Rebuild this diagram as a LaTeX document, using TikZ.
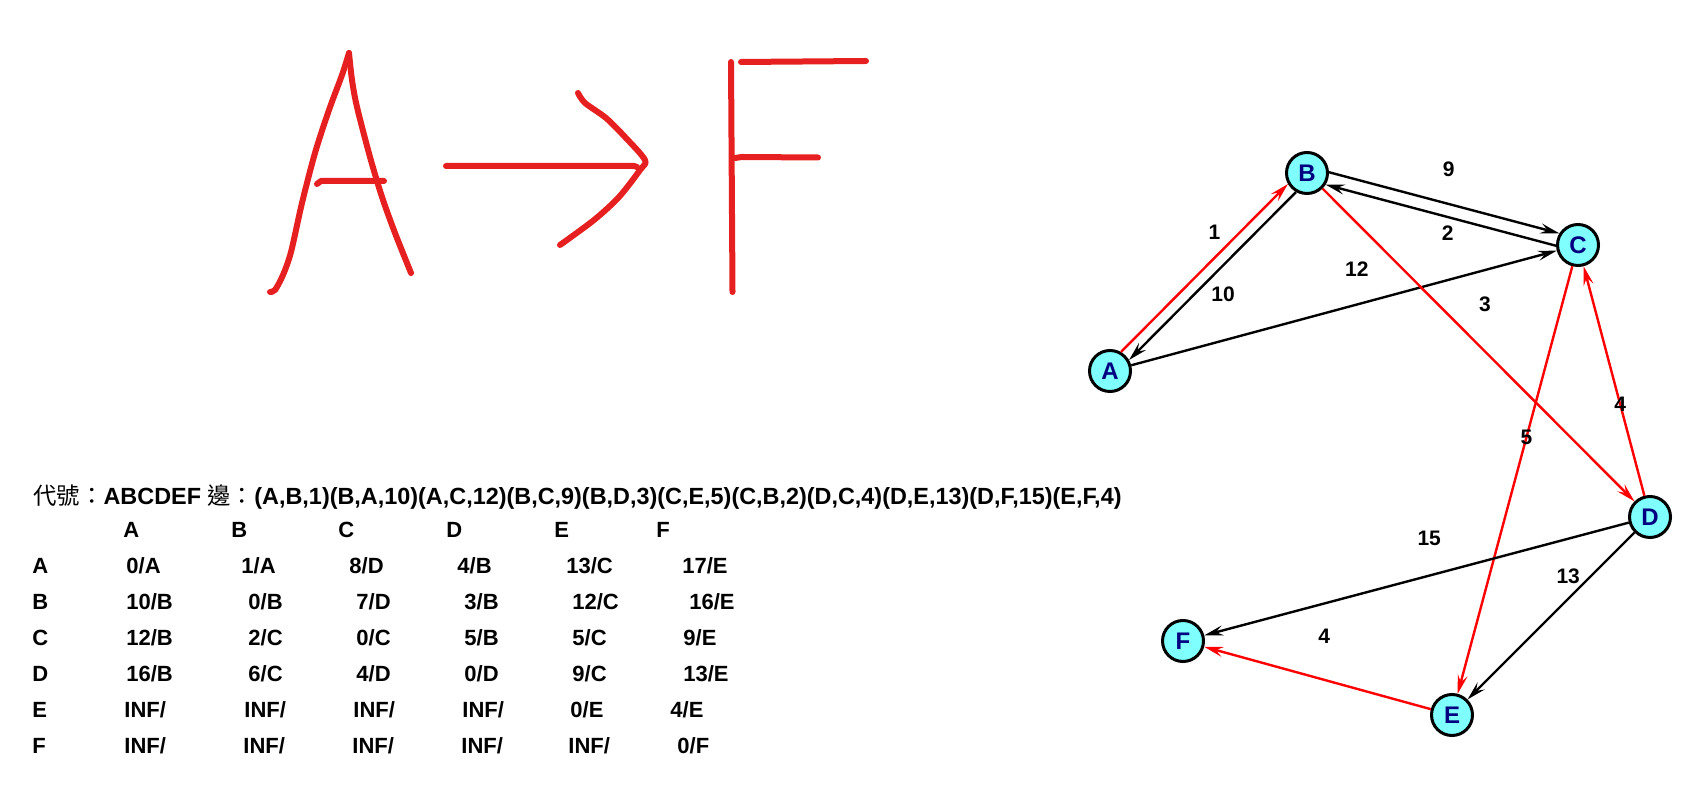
\documentclass[tikz,border=0pt]{standalone}
\usepackage{fontspec}
\setmainfont{Liberation Sans}
\newfontfamily\cjk{Noto Sans CJK TC}
\usetikzlibrary{arrows.meta}

\definecolor{nodecyan}{RGB}{128,255,255}
\definecolor{labelnavy}{RGB}{0,0,128}
\definecolor{pathred}{RGB}{255,0,0}
\definecolor{inkred}{RGB}{230,32,32}

\begin{document}
\begin{tikzpicture}[
    x=0.5pt, y=-0.5pt,
    vertex/.style={
        circle,
        draw,
        line width=1.5pt,
        fill=nodecyan,
        minimum size=20.5pt,
        inner sep=0pt,
        text=labelnavy,
        font=\fontsize{12}{12}\selectfont\bfseries
    },
    link/.style={
        line width=1.2pt,
        -{Stealth[length=9.5pt,width=5pt,inset=3.5pt]}
    },
    redlink/.style={
        link,
        pathred
    },
    cost/.style={
        inner sep=1pt,
        text=black,
        font=\fontsize{10.5}{12}\selectfont\bfseries
    },
    cell/.style={
        anchor=base west,
        inner sep=0pt,
        font=\fontsize{11}{13}\selectfont\bfseries
    },
    ink/.style={
        inkred,
        line width=3pt,
        line cap=round,
        line join=round
    }
]

\useasboundingbox (0,0) rectangle (1687,795);

% Handwritten A -> F

\draw[ink] plot[smooth, tension=.5] coordinates {(270,292) (275,290) (283,275) (291,252) (302,203) (315,153) (329,110) (342,75) (349,53)};
\draw[ink] plot[smooth, tension=.5] coordinates {(349,53) (352,80) (357,107) (370,157) (382,197) (395,233) (411,273)};
\draw[ink] (317,184) -- (321,181) -- (384,181);

\draw[ink] (446,166) -- (634,166) -- (637,167);
\draw[ink] plot[smooth, tension=.5] coordinates {(578,93) (585,103) (606,118) (625,137) (645,160) (640,170) (619,197) (594,220) (560,245)};

\draw[ink] (731,62) -- (732.5,292);
\draw[ink] (741,62) -- (866,61);
\draw[ink] (735,158) -- (742,157) -- (818,157.5);


% Graph

\node[vertex] (A) at (1110,371) {A};
\node[vertex] (B) at (1307,173) {B};
\node[vertex] (C) at (1578,245) {C};
\node[vertex] (D) at (1650,517) {D};
\node[vertex] (E) at (1452,715) {E};
\node[vertex] (F) at (1183,641) {F};


% Edges

\draw[redlink] (A.60) -- node[cost, pos=.71, left=8pt] {1} (B.210);
\draw[link] (B.240) -- node[cost, pos=.61, right=7pt] {10} (A.30);
\draw[link] (A) -- node[cost, pos=.53, above=12.5pt] {12} (C);
\draw[link] (B.2) -- node[cost, pos=.52, above=12pt] {9} (C.148);
\draw[link] (C.182) -- node[cost, pos=.47, below=3pt] {2} (B.-32);
\draw[redlink] (B) -- node[cost, pos=.37, right=19pt] {3} (D);
\draw[redlink] (C) -- node[cost, pos=.4] {5} (E);
\draw[redlink] (D) -- node[cost, pos=.4] {4} (C);
\draw[link] (D) -- node[cost, pos=.26, left=4pt] {13} (E);
\draw[link] (D) -- node[cost, pos=.47, above=13.5pt] {15} (F);
\draw[redlink] (E) -- node[cost, pos=.47, above=16.5pt] {4} (F);


% Table

\node[cell, font=\fontsize{11.7}{13}\selectfont\bfseries] (title) at (33,505)
    {{\cjk\mdseries 代號：}ABCDEF {\cjk\mdseries 邊：}(A,B,1)(B,A,10)(A,C,12)(B,C,9)(B,D,3)(C,E,5)(C,B,2)(D,C,4)(D,E,13)(D,F,15)(E,F,4)};

\foreach \x/\t in {123/A, 231/B, 338/C, 446/D, 554/E, 656/F}
    \node[cell] (col\t) at (\x,538) {\t};
\foreach \t/\y in {A/574, B/610, C/646, D/682, E/718, F/754}
    \node[cell] (row\t) at (32,\y) {\t};

\foreach \x/\t [count=\i] in {126/{0/A}, 241/{1/A}, 349/{8/D}, 457/{4/B}, 566/{13/C}, 682/{17/E}}
    \node[cell] (a\i) at (\x,574) {\t};
\foreach \x/\t [count=\i] in {126/{10/B}, 248/{0/B}, 356/{7/D}, 464/{3/B}, 572/{12/C}, 689/{16/E}}
    \node[cell] (b\i) at (\x,610) {\t};
\foreach \x/\t [count=\i] in {126/{12/B}, 248/{2/C}, 356/{0/C}, 464/{5/B}, 572/{5/C}, 683/{9/E}}
    \node[cell] (c\i) at (\x,646) {\t};
\foreach \x/\t [count=\i] in {126/{16/B}, 248/{6/C}, 356/{4/D}, 464/{0/D}, 572/{9/C}, 683/{13/E}}
    \node[cell] (d\i) at (\x,682) {\t};
\foreach \x/\t [count=\i] in {124/{INF/}, 244/{INF/}, 353/{INF/}, 462/{INF/}, 570/{0/E}, 670/{4/E}}
    \node[cell] (e\i) at (\x,718) {\t};
\foreach \x/\t [count=\i] in {124/{INF/}, 243/{INF/}, 352/{INF/}, 461/{INF/}, 568/{INF/}, 677/{0/F}}
    \node[cell] (f\i) at (\x,754) {\t};

\end{tikzpicture}
\end{document}
